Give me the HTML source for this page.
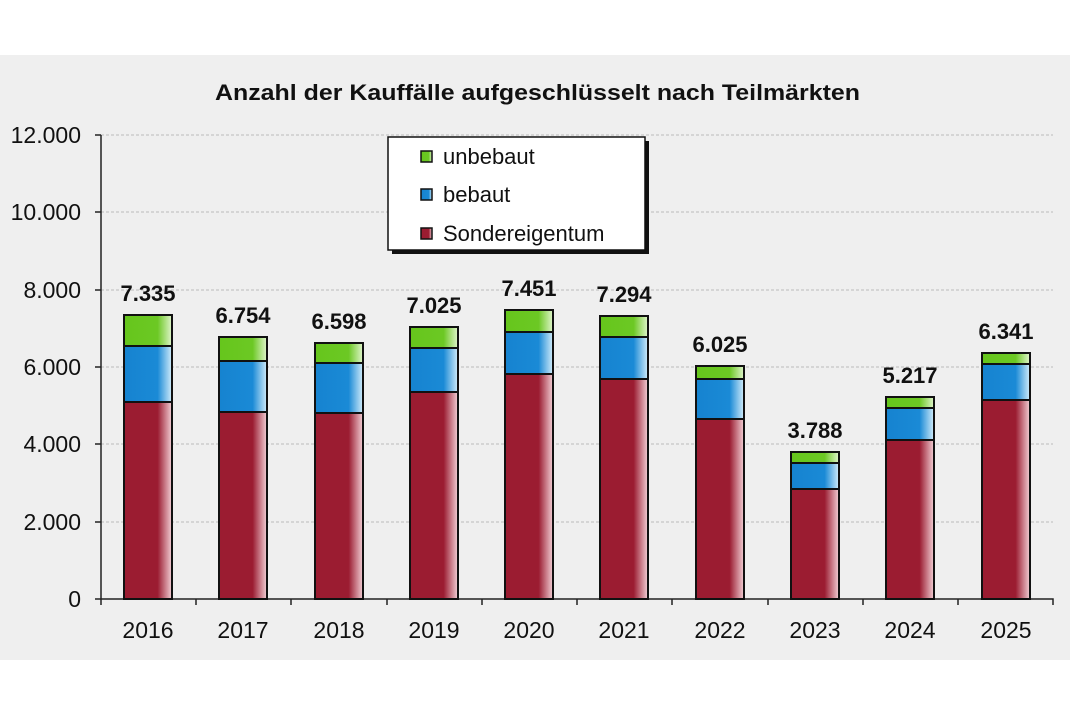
<!DOCTYPE html><html><head><style>body{margin:0;background:#fff;width:1070px;height:713px;overflow:hidden}</style></head><body>
<svg width="1070" height="713" xmlns="http://www.w3.org/2000/svg" font-family="Liberation Sans, Arial, sans-serif">
<defs>
<linearGradient id="r" x1="0" x2="1"><stop offset="0" stop-color="#9b1c31"/><stop offset="0.7" stop-color="#9b1c31"/><stop offset="1" stop-color="#f2d0d6"/></linearGradient>
<linearGradient id="b" x1="0" x2="1"><stop offset="0" stop-color="#1683d0"/><stop offset="0.7" stop-color="#1a8ad6"/><stop offset="1" stop-color="#d2ecfa"/></linearGradient>
<linearGradient id="g" x1="0" x2="1"><stop offset="0" stop-color="#66c61c"/><stop offset="0.7" stop-color="#6cc824"/><stop offset="1" stop-color="#e0f5cc"/></linearGradient>
</defs>
<rect x="0" y="55" width="1070" height="605" fill="#efefef"/>
<text x="215" y="100" font-size="22" font-weight="bold" fill="#111" textLength="645" lengthAdjust="spacingAndGlyphs">Anzahl der Kauffälle aufgeschlüsselt nach Teilmärkten</text>
<g stroke="#bbb" stroke-dasharray="3,2" stroke-width="1">
<line x1="101" x2="1053" y1="135" y2="135"/><line x1="101" x2="1053" y1="212" y2="212"/><line x1="101" x2="1053" y1="290" y2="290"/><line x1="101" x2="1053" y1="367" y2="367"/><line x1="101" x2="1053" y1="444" y2="444"/><line x1="101" x2="1053" y1="522" y2="522"/>
</g>
<g font-size="23" fill="#111" text-anchor="end">
<text x="81" y="143">12.000</text><text x="81" y="220">10.000</text><text x="81" y="298">8.000</text><text x="81" y="375">6.000</text><text x="81" y="452">4.000</text><text x="81" y="530">2.000</text><text x="81" y="607">0</text>
</g>
<g stroke="#222" stroke-width="1.5" fill="none">
<path d="M101 135V599H1053v6"/>
<path d="M95 135h6M95 212h6M95 290h6M95 367h6M95 444h6M95 522h6M95 599h6"/>
<path d="M196 599v6M291 599v6M387 599v6M482 599v6M577 599v6M672 599v6M768 599v6M863 599v6M958 599v6M101 599v6"/>
</g>
<g id="bars" stroke="#111" stroke-width="2">
<rect x="124" y="402" width="48" height="197" fill="url(#r)"/><rect x="124" y="346" width="48" height="56" fill="url(#b)"/><rect x="124" y="315" width="48" height="31" fill="url(#g)"/>
<rect x="219" y="412" width="48" height="187" fill="url(#r)"/><rect x="219" y="361" width="48" height="51" fill="url(#b)"/><rect x="219" y="337" width="48" height="24" fill="url(#g)"/>
<rect x="315" y="413" width="48" height="186" fill="url(#r)"/><rect x="315" y="363" width="48" height="50" fill="url(#b)"/><rect x="315" y="343" width="48" height="20" fill="url(#g)"/>
<rect x="410" y="392" width="48" height="207" fill="url(#r)"/><rect x="410" y="348" width="48" height="44" fill="url(#b)"/><rect x="410" y="327" width="48" height="21" fill="url(#g)"/>
<rect x="505" y="374" width="48" height="225" fill="url(#r)"/><rect x="505" y="332" width="48" height="42" fill="url(#b)"/><rect x="505" y="310" width="48" height="22" fill="url(#g)"/>
<rect x="600" y="379" width="48" height="220" fill="url(#r)"/><rect x="600" y="337" width="48" height="42" fill="url(#b)"/><rect x="600" y="316" width="48" height="21" fill="url(#g)"/>
<rect x="696" y="419" width="48" height="180" fill="url(#r)"/><rect x="696" y="379" width="48" height="40" fill="url(#b)"/><rect x="696" y="366" width="48" height="13" fill="url(#g)"/>
<rect x="791" y="489" width="48" height="110" fill="url(#r)"/><rect x="791" y="463" width="48" height="26" fill="url(#b)"/><rect x="791" y="452" width="48" height="11" fill="url(#g)"/>
<rect x="886" y="440" width="48" height="159" fill="url(#r)"/><rect x="886" y="408" width="48" height="32" fill="url(#b)"/><rect x="886" y="397" width="48" height="11" fill="url(#g)"/>
<rect x="982" y="400" width="48" height="199" fill="url(#r)"/><rect x="982" y="364" width="48" height="36" fill="url(#b)"/><rect x="982" y="353" width="48" height="11" fill="url(#g)"/>
</g>
<g font-size="22" font-weight="bold" fill="#111" text-anchor="middle">
<text x="148" y="301">7.335</text><text x="243" y="323">6.754</text><text x="339" y="329">6.598</text><text x="434" y="313">7.025</text><text x="529" y="296">7.451</text><text x="624" y="302">7.294</text><text x="720" y="352">6.025</text><text x="815" y="438">3.788</text><text x="910" y="383">5.217</text><text x="1006" y="339">6.341</text>
</g>
<g font-size="23" fill="#111" text-anchor="middle">
<text x="148" y="638">2016</text><text x="243" y="638">2017</text><text x="339" y="638">2018</text><text x="434" y="638">2019</text><text x="529" y="638">2020</text><text x="624" y="638">2021</text><text x="720" y="638">2022</text><text x="815" y="638">2023</text><text x="910" y="638">2024</text><text x="1006" y="638">2025</text>
</g>
<rect x="392" y="141" width="257" height="113" fill="#111"/>
<rect x="388" y="137" width="257" height="113" fill="#fff" stroke="#111" stroke-width="1.5"/>
<g stroke="#111" stroke-width="1.5">
<rect x="421" y="151" width="11" height="11" fill="url(#g)"/><rect x="421" y="189" width="11" height="11" fill="url(#b)"/><rect x="421" y="228" width="11" height="11" fill="url(#r)"/>
</g>
<g font-size="22" fill="#111"><text x="443" y="164">unbebaut</text><text x="443" y="202">bebaut</text><text x="443" y="241">Sondereigentum</text></g>
</svg>
</body></html>
